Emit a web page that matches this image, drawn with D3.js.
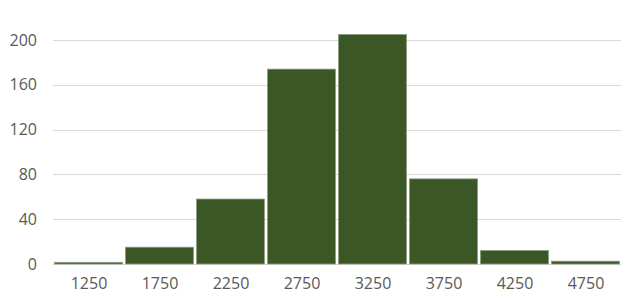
<!DOCTYPE html>
<html>
<head>
<meta charset="utf-8">
<script src="https://cdn.jsdelivr.net/npm/d3@7"></script>
<style>
html,body{margin:0;padding:0;background:#fff;}
text{font-family:"Open Sans",sans-serif;}
</style>
</head>
<body>
<svg id="chart" width="637" height="306"></svg>
<script>
const binCenters = [1250, 1750, 2250, 2750, 3250, 3750, 4250, 4750];
const counts = [1.5, 15, 58, 174, 205, 76, 12, 2.5];
const binWidth = 500;
const yTicks = [0, 40, 80, 120, 160, 200];

(function () {
const svg = d3.select("#chart");
const mLeft = 53, mRight = 621, mTop = 40, mBottom = 264;

const x = d3.scaleLinear().domain([1000, 5000]).range([mLeft, mRight]);
const y = d3.scaleLinear().domain([0, 200]).range([mBottom, mTop]);

// gridlines
svg.append("g").selectAll("line").data(yTicks).join("line")
  .attr("x1", mLeft).attr("x2", mRight)
  .attr("y1", d => Math.round(y(d)) + 0.5).attr("y2", d => Math.round(y(d)) + 0.5)
  .attr("stroke", "#d9d9d9").attr("stroke-width", 1);

// bars
svg.append("g").selectAll("rect").data(binCenters).join("rect")
  .attr("x", d => x(d - binWidth / 2) + 1.5)
  .attr("width", d => x(d + binWidth / 2) - x(d - binWidth / 2) - 3)
  .attr("y", (d, i) => y(counts[i]))
  .attr("height", (d, i) => y(0) - y(counts[i]))
  .attr("fill", "#3b5725")
  .attr("stroke", "#8d9c80").attr("stroke-width", 0.8);

// y axis labels
const yAxis = d3.axisLeft(y).tickValues(yTicks).tickSize(0).tickPadding(0);
const gy = svg.append("g").attr("transform", "translate(37,0)").call(yAxis);
gy.select(".domain").remove();
gy.selectAll("text").attr("fill", "#595959").style("font-size", "16px").style("font-family", "'Open Sans',sans-serif");

// x axis labels
const xAxis = d3.axisBottom(x).tickValues(binCenters).tickSize(0).tickPadding(0).tickFormat(d3.format("d"));
const gx = svg.append("g").attr("transform", "translate(0,278)").call(xAxis);
gx.select(".domain").remove();
gx.selectAll("text").attr("fill", "#595959").style("font-size", "16px").style("font-family", "'Open Sans',sans-serif");
})();
</script>
</body>
</html>
